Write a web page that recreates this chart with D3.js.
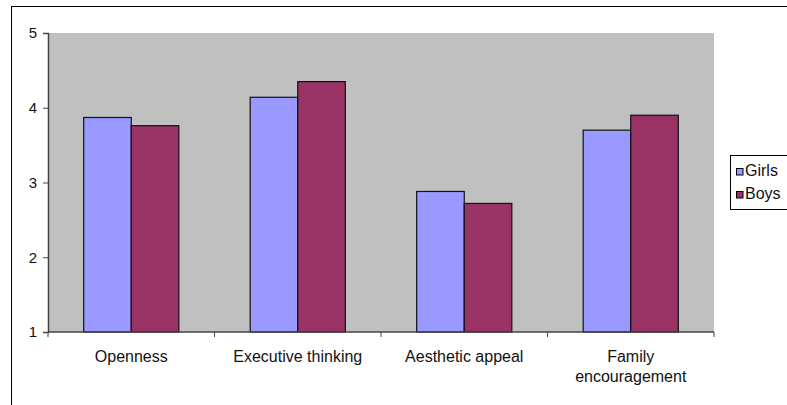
<!DOCTYPE html>
<html>
<head>
<meta charset="utf-8">
<script src="https://cdn.jsdelivr.net/npm/d3@7"></script>
<style>
  html, body { margin: 0; padding: 0; background: #fff; }
  svg { display: block; font-family: "Liberation Sans", Arial, sans-serif; }
</style>
</head>
<body>
<svg id="chart" width="787" height="405"></svg>
<script>
// Chart data
const categories = ["Openness", "Executive thinking", "Aesthetic appeal", "Family encouragement"];
const categoryLines = [["Openness"], ["Executive thinking"], ["Aesthetic appeal"], ["Family", "encouragement"]];
const seriesNames = ["Girls", "Boys"];
const girls = [3.87, 4.14, 2.88, 3.70];
const boys = [3.76, 4.35, 2.72, 3.90];
const yTicks = [1, 2, 3, 4, 5];
const seriesColors = ["#9999FF", "#993366"];

const svg = d3.select("#chart");

// Outer chart frame
svg.append("rect")
  .attr("x", 11.5).attr("y", 6.5)
  .attr("width", 800).attr("height", 420)
  .attr("fill", "#fff").attr("stroke", "#000").attr("stroke-width", 1);

const plot = { left: 48, top: 33, right: 714, bottom: 332 };

const x0 = d3.scaleBand().domain(categories).range([plot.left, plot.right]).paddingInner(0).paddingOuter(0);
const bw = x0.bandwidth();
const gap = bw * 0.75 / 3.5;
const x1 = d3.scaleBand().domain(seriesNames).range([gap, bw - gap]).padding(0);
const y = d3.scaleLinear().domain([1, 5]).range([plot.bottom, plot.top]);

// Plot area background
svg.append("rect")
  .attr("x", plot.left).attr("y", plot.top)
  .attr("width", plot.right - plot.left).attr("height", plot.bottom - plot.top)
  .attr("fill", "#C0C0C0");

// Bars
const values = [girls, boys];
const g = svg.append("g");
categories.forEach((c, i) => {
  seriesNames.forEach((s, j) => {
    const v = values[j][i];
    g.append("rect")
      .attr("x", x0(c) + x1(s))
      .attr("y", y(v))
      .attr("width", x1.bandwidth())
      .attr("height", y(1) - y(v))
      .attr("fill", seriesColors[j])
      .attr("stroke", "#111")
      .attr("stroke-width", 1.2);
  });
});

// Y axis
const yAxis = d3.axisLeft(y).tickValues(yTicks).tickSize(5).tickPadding(6).tickFormat(d3.format("d"));
const yg = svg.append("g").attr("transform", `translate(${plot.left},0)`).call(yAxis);
yg.select(".domain").attr("stroke", "#444").attr("stroke-width", 1.5);
yg.selectAll(".tick line").attr("stroke", "#444");
yg.selectAll(".tick text").attr("font-size", 15).attr("fill", "#111")
  .attr("font-family", "Liberation Sans, Arial, sans-serif");

// X axis with category boundary ticks
const boundaries = categories.map(c => x0(c)).concat([plot.right]);
const xg = svg.append("g");
xg.append("line")
  .attr("x1", plot.left).attr("x2", plot.right)
  .attr("y1", plot.bottom).attr("y2", plot.bottom)
  .attr("stroke", "#444").attr("stroke-width", 1.5);
xg.selectAll("line.tick").data(boundaries).enter().append("line")
  .attr("class", "tick")
  .attr("x1", d => d).attr("x2", d => d)
  .attr("y1", plot.bottom).attr("y2", plot.bottom + 5)
  .attr("stroke", "#444");

// Category labels
categories.forEach((c, i) => {
  const t = xg.append("text")
    .attr("x", x0(c) + bw / 2)
    .attr("y", 362)
    .attr("text-anchor", "middle")
    .attr("font-size", 16).attr("fill", "#111");
  categoryLines[i].forEach((line, k) => {
    t.append("tspan").attr("x", x0(c) + bw / 2).attr("dy", k === 0 ? 0 : 20).text(line);
  });
});

// Legend
const lg = svg.append("g");
lg.append("rect")
  .attr("x", 730.5).attr("y", 155.5).attr("width", 80).attr("height", 54)
  .attr("fill", "#fff").attr("stroke", "#000");
seriesNames.forEach((s, j) => {
  const cy = 172 + j * 23;
  lg.append("rect")
    .attr("x", 736.5).attr("y", cy - 3.5).attr("width", 6.5).attr("height", 6.5)
    .attr("fill", seriesColors[j]).attr("stroke", "#000");
  lg.append("text")
    .attr("x", 745).attr("y", cy + 4)
    .attr("font-size", 16).attr("fill", "#111").text(s);
});
</script>
</body>
</html>
